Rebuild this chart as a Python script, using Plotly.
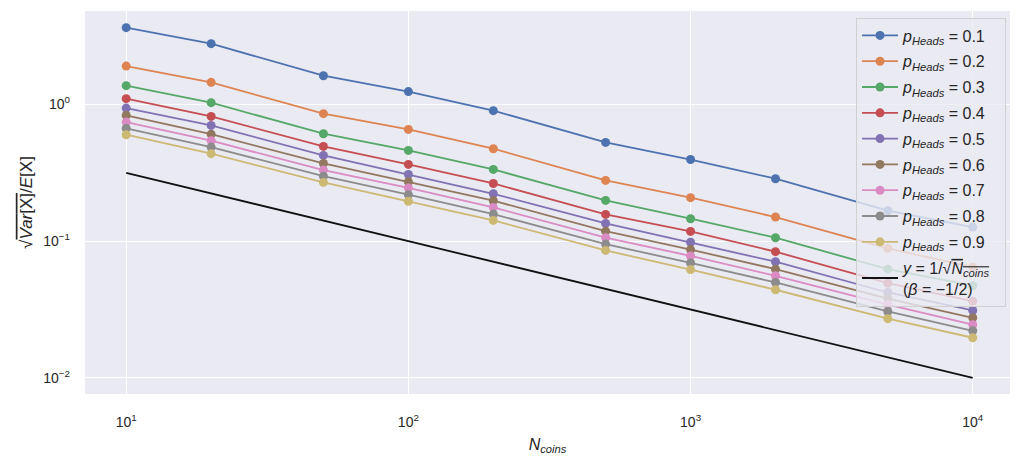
import plotly.graph_objects as go

n_coins = [10, 20, 50, 100, 200, 500, 1000, 2000, 5000, 10000]
p_heads = [0.1, 0.2, 0.3, 0.4, 0.5, 0.6, 0.7, 0.8, 0.9]

cv_p01 = [3.64, 2.78, 1.62, 1.24, 0.90, 0.527, 0.395, 0.286, 0.167, 0.1266]
cv_p02 = [1.906, 1.449, 0.855, 0.656, 0.474, 0.278, 0.208, 0.150, 0.0885, 0.0645]
cv_p03 = [1.371, 1.029, 0.6105, 0.4608, 0.3345, 0.1985, 0.1459, 0.1059, 0.0624, 0.0472]
cv_p04 = [1.101, 0.817, 0.493, 0.364, 0.264, 0.1568, 0.1178, 0.0837, 0.0493, 0.0364]
cv_p05 = [0.940, 0.702, 0.4236, 0.3076, 0.222, 0.1348, 0.0982, 0.0707, 0.0421, 0.0311]
cv_p06 = [0.831, 0.606, 0.370, 0.272, 0.1975, 0.1183, 0.0867, 0.0624, 0.0379, 0.0275]
cv_p07 = [0.742, 0.5425, 0.3307, 0.245, 0.1764, 0.1059, 0.0779, 0.0558, 0.0343, 0.0245]
cv_p08 = [0.6675, 0.487, 0.2988, 0.2188, 0.1576, 0.0951, 0.0693, 0.0499, 0.0306, 0.0221]
cv_p09 = [0.600, 0.436, 0.2688, 0.1958, 0.1417, 0.0855, 0.0619, 0.0441, 0.0271, 0.01965]
ref_line = [0.3162, 0.2236, 0.1414, 0.1, 0.0707, 0.0447, 0.0316, 0.0224, 0.0141, 0.01]

x_tick_vals = [10, 100, 1000, 10000]
x_tick_text = ["10<sup>1</sup>", "10<sup>2</sup>", "10<sup>3</sup>", "10<sup>4</sup>"]
y_tick_vals = [0.01, 0.1, 1]
y_tick_text = ["10<sup>−2</sup>", "10<sup>−1</sup>", "10<sup>0</sup>"]

series = [cv_p01, cv_p02, cv_p03, cv_p04, cv_p05, cv_p06, cv_p07, cv_p08, cv_p09]
colors = ["#4C72B0", "#DD8452", "#55A868", "#C44E52", "#8172B3",
          "#937860", "#DA8BC3", "#8C8C8C", "#CCB974"]

pad = "\u00a0\u00a0\u00a0"

fig = go.Figure()
for i, (p, vals, c) in enumerate(zip(p_heads, series, colors)):
    fig.add_trace(go.Scatter(
        x=n_coins, y=vals, mode="lines+markers",
        name=f"<i>p</i><sub><i>Heads</i></sub> = {p}{pad}",
        legendgroup=f"g{i}",
        line=dict(color=c, width=1.8),
        marker=dict(color=c, size=9),
    ))

fig.add_trace(go.Scatter(
    x=n_coins, y=ref_line, mode="lines",
    name="<i>y</i> = 1/√<span style='text-decoration:overline'><i>N</i><sub><i>coins</i></sub></span><br>(<i>β</i> = −1/2)",
    legendgroup="ref",
    line=dict(color="#111111", width=1.8),
))

font = "Liberation Sans, Arial, sans-serif"
fig.update_layout(
    width=1024, height=465,
    margin=dict(l=77, r=22, t=3, b=79),
    paper_bgcolor="white",
    plot_bgcolor="#EAEAF2",
    font=dict(family=font, size=13, color="#262626"),
    showlegend=True,
    legend=dict(
        x=0.9957, y=0.983, xanchor="right", yanchor="top",
        bgcolor="rgba(234,234,242,0.8)",
        bordercolor="#D0D0D0", borderwidth=1,
        font=dict(family=font, size=16, color="#262626"),
        tracegroupgap=2,
        itemwidth=36,
    ),
    xaxis=dict(
        type="log", range=[0.854, 4.132],
        tickmode="array", tickvals=x_tick_vals, ticktext=x_tick_text,
        showgrid=True, gridcolor="white", gridwidth=1.2,
        zeroline=False, showline=False, ticks="",
        ticklabelstandoff=18,
        tickfont=dict(size=14, color="#262626"),
        title=dict(text="<i>N</i><sub><i>coins</i></sub>", font=dict(size=16), standoff=9),
    ),
    yaxis=dict(
        type="log", range=[-2.118, 0.683],
        tickmode="array", tickvals=y_tick_vals, ticktext=y_tick_text,
        showgrid=True, gridcolor="white", gridwidth=1.2,
        zeroline=False, showline=False, ticks="",
        ticklabelstandoff=14,
        tickfont=dict(size=14, color="#262626"),
        title=dict(text="√<span style='text-decoration:overline'><i>Var</i>[X]</span>/<i>E</i>[X]",
                   font=dict(size=17), standoff=6),
    ),
)

fig.write_html("out.html")
